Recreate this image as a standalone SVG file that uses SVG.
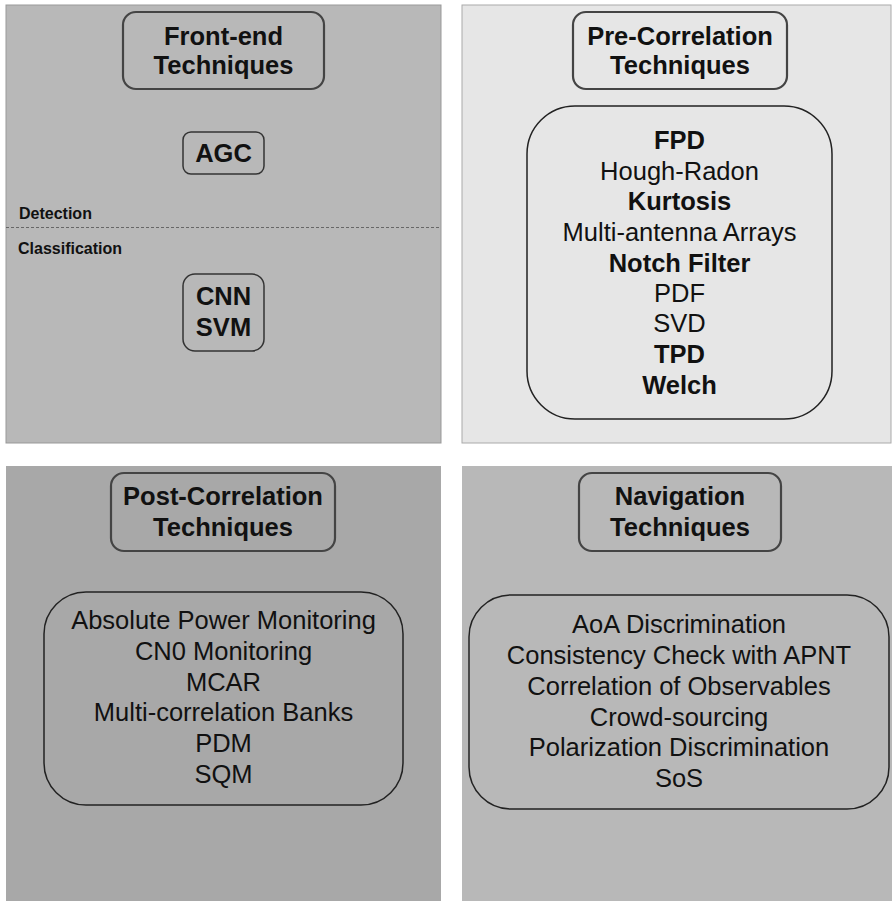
<svg xmlns="http://www.w3.org/2000/svg" width="892" height="901" viewBox="0 0 892 901">
<style>
text{font-family:"Liberation Sans",Arial,sans-serif;fill:#111;text-anchor:middle}
.t{font-size:25.5px;font-weight:bold}
.i{font-size:25.5px}
.ib{font-size:25.5px;font-weight:bold}
.s{font-size:16px;font-weight:bold;text-anchor:start}
.title{fill:none;stroke:#444;stroke-width:2.2}
.box{fill:none;stroke:#222;stroke-width:1.5}
.small{fill:none;stroke:#333;stroke-width:1.5}
</style>
<g id="panel-frontend">
<rect x="6" y="5" width="435" height="438" fill="#b8b8b8" stroke="#999" stroke-width="1"/>
<line x1="6" y1="227.5" x2="441" y2="227.5" stroke="#666" stroke-width="1" stroke-dasharray="3,2"/>
<text class="s" x="19" y="219">Detection</text>
<text class="s" x="18" y="254">Classification</text>
</g>
<g id="title-frontend">
<rect class="title" x="123" y="12" width="201" height="77" rx="13"/>
<text class="t" x="223.5" y="45">Front-end</text>
<text class="t" x="223.5" y="74">Techniques</text>
</g>
<g id="node-agc">
<rect class="small" x="183" y="132" width="81" height="42" rx="8"/>
<text class="t" x="223.5" y="162">AGC</text>
</g>
<g id="node-cnn-svm">
<rect class="small" x="183" y="274" width="81" height="77" rx="12"/>
<text class="t" x="223.5" y="305">CNN</text>
<text class="t" x="223.5" y="336">SVM</text>
</g>
<g id="panel-precorrelation">
<rect x="462" y="5" width="429" height="438" fill="#e6e6e6" stroke="#aaa" stroke-width="1"/>
</g>
<g id="title-precorrelation">
<rect class="title" x="573" y="12" width="214" height="77" rx="13"/>
<text class="t" x="680" y="45">Pre-Correlation</text>
<text class="t" x="680" y="74">Techniques</text>
</g>
<g id="list-precorrelation">
<rect class="box" x="527" y="106" width="305" height="313" rx="48"/>
<text class="ib" x="679.5" y="149">FPD</text>
<text class="i" x="679.5" y="180">Hough-Radon</text>
<text class="ib" x="679.5" y="210">Kurtosis</text>
<text class="i" x="679.5" y="241">Multi-antenna Arrays</text>
<text class="ib" x="679.5" y="272">Notch Filter</text>
<text class="i" x="679.5" y="302">PDF</text>
<text class="i" x="679.5" y="332">SVD</text>
<text class="ib" x="679.5" y="363">TPD</text>
<text class="ib" x="679.5" y="394">Welch</text>
</g>
<g id="panel-postcorrelation">
<rect x="6" y="466" width="435" height="435" fill="#a8a8a8"/>
</g>
<g id="title-postcorrelation">
<rect class="title" x="111" y="473" width="224" height="78" rx="13"/>
<text class="t" x="223" y="505">Post-Correlation</text>
<text class="t" x="223" y="536">Techniques</text>
</g>
<g id="list-postcorrelation">
<rect class="box" x="44" y="592" width="359" height="213" rx="42"/>
<text class="i" x="223.5" y="629">Absolute Power Monitoring</text>
<text class="i" x="223.5" y="660">CN0 Monitoring</text>
<text class="i" x="223.5" y="691">MCAR</text>
<text class="i" x="223.5" y="721">Multi-correlation Banks</text>
<text class="i" x="223.5" y="752">PDM</text>
<text class="i" x="223.5" y="783">SQM</text>
</g>
<g id="panel-navigation">
<rect x="462" y="466" width="430" height="435" fill="#b8b8b8"/>
</g>
<g id="title-navigation">
<rect class="title" x="579" y="473" width="202" height="78" rx="13"/>
<text class="t" x="680" y="505">Navigation</text>
<text class="t" x="680" y="536">Techniques</text>
</g>
<g id="list-navigation">
<rect class="box" x="469" y="595" width="420" height="214" rx="42"/>
<text class="i" x="679" y="633">AoA Discrimination</text>
<text class="i" x="679" y="664">Consistency Check with APNT</text>
<text class="i" x="679" y="695">Correlation of Observables</text>
<text class="i" x="679" y="726">Crowd-sourcing</text>
<text class="i" x="679" y="756">Polarization Discrimination</text>
<text class="i" x="679" y="787">SoS</text>
</g>
<g id="connectors"></g>
</svg>
